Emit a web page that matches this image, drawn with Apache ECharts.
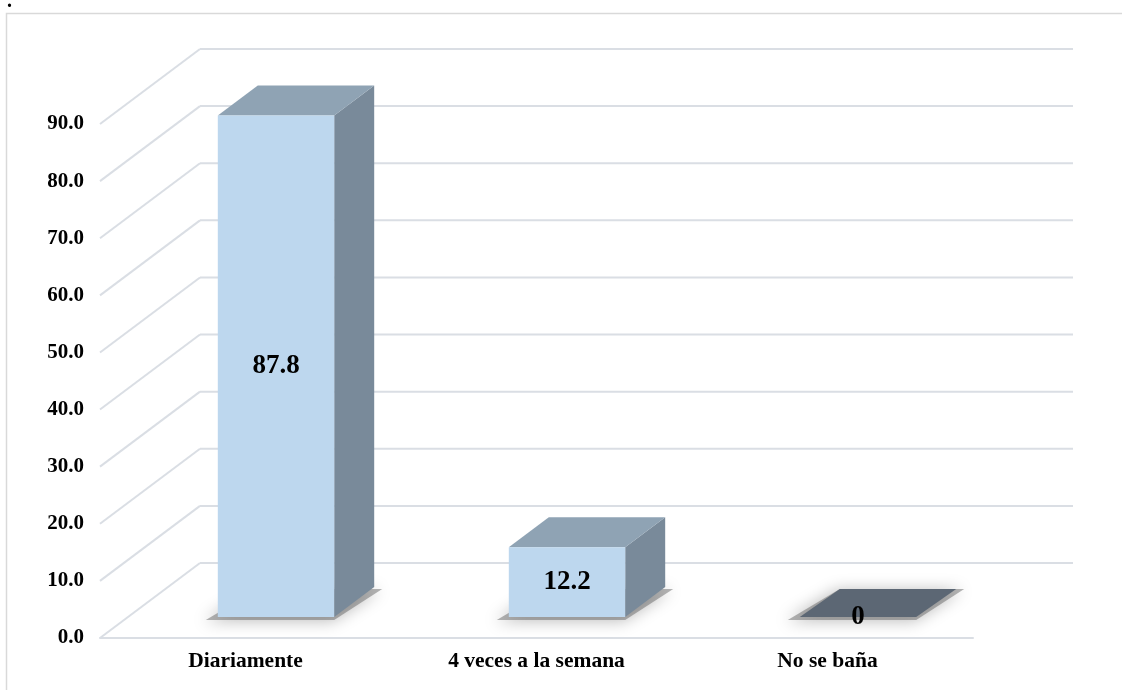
<!DOCTYPE html>
<html>
<head>
<meta charset="utf-8">
<script src="https://cdn.jsdelivr.net/npm/echarts@6/dist/echarts.min.js"></script>
<style>
  html, body { margin: 0; padding: 0; background: #fff; }
  #chart { width: 1122px; height: 690px; }
</style>
</head>
<body>
<div id="chart"></div>
<script>
// Categories and percentages
const categories = ['Diariamente', '4 veces a la semana', 'No se baña'];
const values = [87.8, 12.2, 0];
// Value-axis ticks (percent)
const yTicks = [0, 10, 20, 30, 40, 50, 60, 70, 80, 90];

const FONT = "'Liberation Serif', 'Times New Roman', serif";
const WALL_DX = 100, WALL_DY = -75;   // depth from front plane to back wall
const BAR_DX = 30.5, BAR_DY = -21;    // bar front face sits inside the floor
const BOX_DX = 40, BOX_DY = -30;      // bar depth
const GRID_COLOR = '#dadee4';

const chart = echarts.init(document.getElementById('chart'), null, { renderer: 'canvas' });

function renderWall(params, api) {
  const cs = params.coordSys;
  const v = api.value(1);
  const p = api.coord([0, v]);
  const xL = cs.x, y = p[1];
  const children = [
    { type: 'line', shape: { x1: xL, y1: y, x2: xL + WALL_DX, y2: y + WALL_DY },
      style: { stroke: GRID_COLOR, lineWidth: 2 } },
    { type: 'line', shape: { x1: xL + WALL_DX, y1: y + WALL_DY, x2: cs.x + cs.width + WALL_DX, y2: y + WALL_DY },
      style: { stroke: GRID_COLOR, lineWidth: 2 } }
  ];
  return { type: 'group', children: children };
}

function renderBar(params, api) {
  const i = api.value(0);
  const v = api.value(1);
  const base = api.coord([i, 0]);
  const top = api.coord([i, v]);
  const bw = api.size([1, 0])[0] * 0.4;
  const x0 = base[0] + BAR_DX - bw / 2, x1 = x0 + bw;
  const yb = base[1] + BAR_DY, yt = top[1] + BAR_DY;
  const children = [];
  // soft floor shadow under the box
  children.push({
    type: 'polygon',
    shape: { points: [[x0 - 12, yb + 3], [x1, yb + 3], [x1 + BOX_DX + 8, yb + BOX_DY + 2], [x0 + BOX_DX, yb + BOX_DY + 2]] },
    style: { fill: 'rgba(90,90,90,0.45)', shadowBlur: 16, shadowColor: 'rgba(0,0,0,0.6)', shadowOffsetX: -2, shadowOffsetY: 1 }
  });
  if (v > 0) {
    children.push({ type: 'polygon',
      shape: { points: [[x1, yt], [x1 + BOX_DX, yt + BOX_DY], [x1 + BOX_DX, yb + BOX_DY], [x1, yb]] },
      style: { fill: '#798a9a' } });
    children.push({ type: 'polygon',
      shape: { points: [[x0, yt], [x1, yt], [x1 + BOX_DX, yt + BOX_DY], [x0 + BOX_DX, yt + BOX_DY]] },
      style: { fill: '#8fa3b4' } });
    children.push({ type: 'rect', shape: { x: x0, y: yt, width: bw, height: yb - yt },
      style: { fill: '#bdd7ee' } });
  } else {
    children.push({ type: 'polygon',
      shape: { points: [[x0, yt], [x1, yt], [x1 + BOX_DX, yt + BOX_DY + 2], [x0 + BOX_DX, yt + BOX_DY + 2]] },
      style: { fill: '#5c6774' } });
  }
  children.push({
    type: 'text',
    style: { text: String(v), x: (x0 + x1) / 2, y: (yt + yb) / 2, align: 'center', verticalAlign: 'middle',
      font: 'bold 27px ' + FONT, fill: '#000' }
  });
  return { type: 'group', children: children };
}

chart.setOption({
  animation: false,
  backgroundColor: '#fff',
  grid: { left: 100, right: 149, top: 124, bottom: 52, containLabel: false },
  xAxis: {
    type: 'category',
    data: categories,
    axisLine: { show: true, lineStyle: { color: GRID_COLOR, width: 2 } },
    axisTick: { show: false },
    axisLabel: { margin: 12, color: '#000', fontWeight: 'bold', fontSize: 21.5, fontFamily: FONT },
    splitLine: { show: false }
  },
  yAxis: {
    type: 'value',
    min: 0, max: 90, interval: 10,
    axisLine: { show: false },
    axisTick: { show: false },
    splitLine: { show: false },
    axisLabel: { margin: 16, color: '#000', fontWeight: 'bold', fontSize: 21, fontFamily: FONT,
      formatter: function (v) { return v.toFixed(1); } }
  },
  graphic: [
    { type: 'rect', shape: { x: 6.5, y: 13.5, width: 1200, height: 700 },
      style: { fill: 'none', stroke: '#d9d9d9', lineWidth: 1.5 }, silent: true, z: -10 },
    { type: 'text', left: 7, top: -8, style: { text: '.', font: 'bold 20px ' + FONT, fill: '#000' } }
  ],
  series: [
    { type: 'custom', renderItem: renderWall, data: yTicks.map(function (t) { return [0, t]; }),
      encode: { x: 0, y: 1 }, silent: true, z: 1 },
    { type: 'custom', renderItem: renderBar, data: values.map(function (v, i) { return [i, v]; }),
      encode: { x: 0, y: 1 }, silent: true, z: 5 }
  ]
});
</script>
</body>
</html>
